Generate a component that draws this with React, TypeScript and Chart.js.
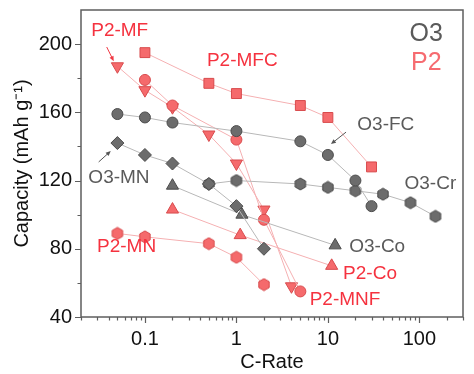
import React, { useEffect, useRef } from "react";
import { Chart, registerables } from "chart.js";

Chart.register(...registerables);

// ---- axis ranges & ticks ----
const xMin = 0.02;
const xMax = 300;
const yMin = 40;
const yMax = 220;
const xTickValues = [0.1, 1, 10, 100];
const yTickValues = [40, 80, 120, 160, 200];
const yMinorTickValues = [60, 100, 140, 180];

// ---- series (C-rate, capacity) ----
const o3mnX = [0.05, 0.1, 0.2, 0.5, 1, 2];
const o3mnY = [142, 135, 130, 118, 105, 80];
const o3fcX = [0.05, 0.1, 0.2, 1, 5, 10, 20, 30];
const o3fcY = [159, 157, 154, 149, 143, 135, 120, 105];
const o3crX = [0.5, 1, 5, 10, 20, 40, 80, 150];
const o3crY = [118, 120, 118, 116, 114, 112, 107, 99];
const o3coX = [0.2, 1.15, 12];
const o3coY = [117, 100, 82];
const p2mfcX = [0.1, 0.5, 1, 5, 10, 30];
const p2mfcY = [195, 177, 171, 164, 157, 128];
const p2mfX = [0.05, 0.1, 0.2, 0.5, 1, 2, 4];
const p2mfY = [187, 173, 163, 147, 130, 103, 58];
const p2mnfX = [0.1, 0.2, 1, 2, 5];
const p2mnfY = [179, 164, 144, 97, 55];
const p2mnX = [0.05, 0.1, 0.5, 1, 2];
const p2mnY = [89, 87, 83, 75, 59];
const p2coX = [0.2, 1.1, 11];
const p2coY = [103, 88, 70];

type Fam = "O3" | "P2";
type Marker = "circle" | "square" | "diamond" | "triangle" | "down" | "hexagon";
const seriesList: { label: string; xs: number[]; ys: number[]; fam: Fam; marker: Marker }[] = [
  { label: "O3-MN", xs: o3mnX, ys: o3mnY, fam: "O3", marker: "diamond" },
  { label: "O3-Co", xs: o3coX, ys: o3coY, fam: "O3", marker: "triangle" },
  { label: "O3-FC", xs: o3fcX, ys: o3fcY, fam: "O3", marker: "circle" },
  { label: "O3-Cr", xs: o3crX, ys: o3crY, fam: "O3", marker: "hexagon" },
  { label: "P2-MNF", xs: p2mnfX, ys: p2mnfY, fam: "P2", marker: "circle" },
  { label: "P2-MF", xs: p2mfX, ys: p2mfY, fam: "P2", marker: "down" },
  { label: "P2-MFC", xs: p2mfcX, ys: p2mfcY, fam: "P2", marker: "square" },
  { label: "P2-MN", xs: p2mnX, ys: p2mnY, fam: "P2", marker: "hexagon" },
  { label: "P2-Co", xs: p2coX, ys: p2coY, fam: "P2", marker: "triangle" },
];

// ---- text annotations (anchored in data coordinates) ----
const labelTexts = ["P2-MF", "P2-MFC", "O3-FC", "O3-Cr", "O3-MN", "P2-MN", "O3-Co", "P2-Co", "P2-MNF"];
const labelFams: Fam[] = ["P2", "P2", "O3", "O3", "O3", "P2", "O3", "P2", "P2"];
const labelX = [0.053, 1.16, 43, 132, 0.052, 0.063, 34.6, 28.9, 15.4];
const labelY = [207.6, 190, 152.5, 118, 121.5, 81, 81, 65.2, 50];
const arrowFams: Fam[] = ["P2", "O3", "O3"];
const arrowFromX = [0.0382, 0.0312, 15.8];
const arrowFromY = [198.3, 130.9, 148.4];
const arrowToX = [0.0456, 0.0423, 10.8];
const arrowToY = [190, 137.3, 141.4];
const legendTexts = ["O3", "P2"];
const legendX = [119, 119];
const legendY = [205.9, 188.9];

const FONT = "'Liberation Sans', Arial, Helvetica, sans-serif";
const AXIS = "#5e5e5e";
const colors = {
  O3: { fill: "#6c6c6c", border: "#4b4b4b", line: "#b8b8b8", text: "#5a5a5a", arrow: "#555555", legend: "#5a5a5a" },
  P2: { fill: "#f56a6c", border: "#d84a4c", line: "#f5b0b2", text: "#f5323f", arrow: "#f03a45", legend: "#f66b70" },
};

function hexagonImage(fill: string, stroke: string): HTMLCanvasElement {
  const c = document.createElement("canvas");
  c.width = 14;
  c.height = 14;
  const g = c.getContext("2d")!;
  const r = 6;
  g.beginPath();
  for (let i = 0; i < 6; i++) {
    const a = Math.PI / 6 + (i * Math.PI) / 3;
    const px = 7 + r * Math.cos(a);
    const py = 7 + r * Math.sin(a);
    if (i === 0) g.moveTo(px, py);
    else g.lineTo(px, py);
  }
  g.closePath();
  g.fillStyle = fill;
  g.fill();
  g.lineWidth = 1;
  g.strokeStyle = stroke;
  g.stroke();
  return c;
}

const decor = {
  id: "decor",
  afterDatasetsDraw(chart: any) {
    const { ctx, chartArea: a, scales } = chart;
    const x = scales.x;
    const y = scales.y;
    ctx.save();
    ctx.strokeStyle = AXIS;
    ctx.lineWidth = 1.5;
    ctx.strokeRect(a.left, a.top, a.right - a.left, a.bottom - a.top);
    ctx.lineWidth = 1.2;
    ctx.beginPath();
    for (let e = -2; e <= 2; e++) {
      for (let k = 1; k <= 9; k++) {
        const v = k * Math.pow(10, e);
        if (v < xMin || v > xMax) continue;
        const px = Math.round(x.getPixelForValue(v)) + 0.5;
        const len = k === 1 ? 6 : 3.5;
        ctx.moveTo(px, a.bottom);
        ctx.lineTo(px, a.bottom + len);
      }
    }
    yTickValues.forEach((v) => {
      const py = Math.round(y.getPixelForValue(v)) + 0.5;
      ctx.moveTo(a.left, py);
      ctx.lineTo(a.left - 6, py);
    });
    yMinorTickValues.forEach((v) => {
      const py = Math.round(y.getPixelForValue(v)) + 0.5;
      ctx.moveTo(a.left, py);
      ctx.lineTo(a.left - 3.5, py);
    });
    ctx.stroke();

    // arrows
    arrowFams.forEach((f, i) => {
      const x1 = x.getPixelForValue(arrowFromX[i]);
      const y1 = y.getPixelForValue(arrowFromY[i]);
      const x2 = x.getPixelForValue(arrowToX[i]);
      const y2 = y.getPixelForValue(arrowToY[i]);
      const ang = Math.atan2(y2 - y1, x2 - x1);
      ctx.strokeStyle = colors[f].arrow;
      ctx.fillStyle = colors[f].arrow;
      ctx.lineWidth = 1;
      ctx.beginPath();
      ctx.moveTo(x1, y1);
      ctx.lineTo(x2 - 3 * Math.cos(ang), y2 - 3 * Math.sin(ang));
      ctx.stroke();
      ctx.beginPath();
      ctx.moveTo(x2, y2);
      ctx.lineTo(x2 - 5 * Math.cos(ang) + 2.2 * Math.sin(ang), y2 - 5 * Math.sin(ang) - 2.2 * Math.cos(ang));
      ctx.lineTo(x2 - 5 * Math.cos(ang) - 2.2 * Math.sin(ang), y2 - 5 * Math.sin(ang) + 2.2 * Math.cos(ang));
      ctx.closePath();
      ctx.fill();
    });

    // labels
    ctx.textAlign = "center";
    ctx.textBaseline = "middle";
    ctx.font = `19px ${FONT}`;
    labelTexts.forEach((t, i) => {
      ctx.fillStyle = colors[labelFams[i]].text;
      ctx.fillText(t, x.getPixelForValue(labelX[i]), y.getPixelForValue(labelY[i]));
    });
    ctx.font = `25px ${FONT}`;
    legendTexts.forEach((t, i) => {
      ctx.fillStyle = colors[t as Fam].legend;
      ctx.fillText(t, x.getPixelForValue(legendX[i]), y.getPixelForValue(legendY[i]));
    });
    ctx.restore();
  },
};

export default function App() {
  const ref = useRef<HTMLCanvasElement>(null);
  useEffect(() => {
    const canvas = ref.current!;
    const datasets = seriesList.map((s) => {
      const c = colors[s.fam];
      let pointStyle: any = s.marker;
      let rotation = 0;
      let radius = 5.5;
      if (s.marker === "square") { pointStyle = "rect"; radius = 7; }
      if (s.marker === "diamond") { pointStyle = "rectRot"; radius = 6.5; }
      if (s.marker === "triangle") { pointStyle = "triangle"; radius = 7; }
      if (s.marker === "down") { pointStyle = "triangle"; radius = 7; rotation = 180; }
      if (s.marker === "hexagon") { pointStyle = hexagonImage(c.fill, c.border); radius = 6; }
      return {
        label: s.label,
        data: s.xs.map((xv, i) => ({ x: xv, y: s.ys[i] })),
        borderColor: c.line,
        borderWidth: 1,
        backgroundColor: c.fill,
        pointBackgroundColor: c.fill,
        pointBorderColor: c.border,
        pointBorderWidth: 1,
        pointRadius: radius,
        pointStyle,
        pointRotation: rotation,
        showLine: true,
        tension: 0,
      };
    });
    const chart = new Chart(canvas, {
      type: "scatter",
      data: { datasets: datasets as any },
      options: {
        animation: false,
        responsive: true,
        maintainAspectRatio: false,
        layout: { padding: { top: 10, right: 11, left: 0, bottom: 0 } },
        plugins: { legend: { display: false }, tooltip: { enabled: false } },
        scales: {
          x: {
            type: "logarithmic",
            min: xMin,
            max: xMax,
            grid: { display: false, drawTicks: false },
            border: { display: false },
            afterBuildTicks: (sc: any) => {
              sc.ticks = xTickValues.map((v) => ({ value: v }));
            },
            afterFit: (sc: any) => {
              sc.height = 57;
              sc.paddingLeft = 0;
              sc.paddingRight = 0;
            },
            ticks: {
              autoSkip: false,
              maxRotation: 0,
              padding: 10,
              color: "#111",
              font: { size: 20, family: FONT },
              callback: (v: any) => String(v),
            },
            title: {
              display: true,
              text: "C-Rate",
              color: "#111",
              font: { size: 20, family: FONT },
              padding: { top: 0, bottom: 0 },
            },
          },
          y: {
            type: "linear",
            min: yMin,
            max: yMax,
            grid: { display: false, drawTicks: false },
            border: { display: false },
            afterBuildTicks: (sc: any) => {
              sc.ticks = yTickValues.map((v) => ({ value: v }));
            },
            afterFit: (sc: any) => {
              sc.width = 81;
              sc.paddingTop = 0;
              sc.paddingBottom = 0;
            },
            ticks: {
              autoSkip: false,
              padding: 9,
              color: "#111",
              font: { size: 20, family: FONT },
              callback: (v: any) => String(v),
            },
            title: {
              display: true,
              text: "Capacity (mAh g\u207B\u00B9)",
              color: "#111",
              font: { size: 20, family: FONT },
              padding: { top: 10, bottom: 0 },
            },
          },
        },
      },
      plugins: [decor],
    });
    return () => chart.destroy();
  }, []);
  return (
    <div style={{ position: "fixed", left: 0, top: 0, width: 474, height: 374, background: "#fff" }}>
      <canvas ref={ref} />
    </div>
  );
}
